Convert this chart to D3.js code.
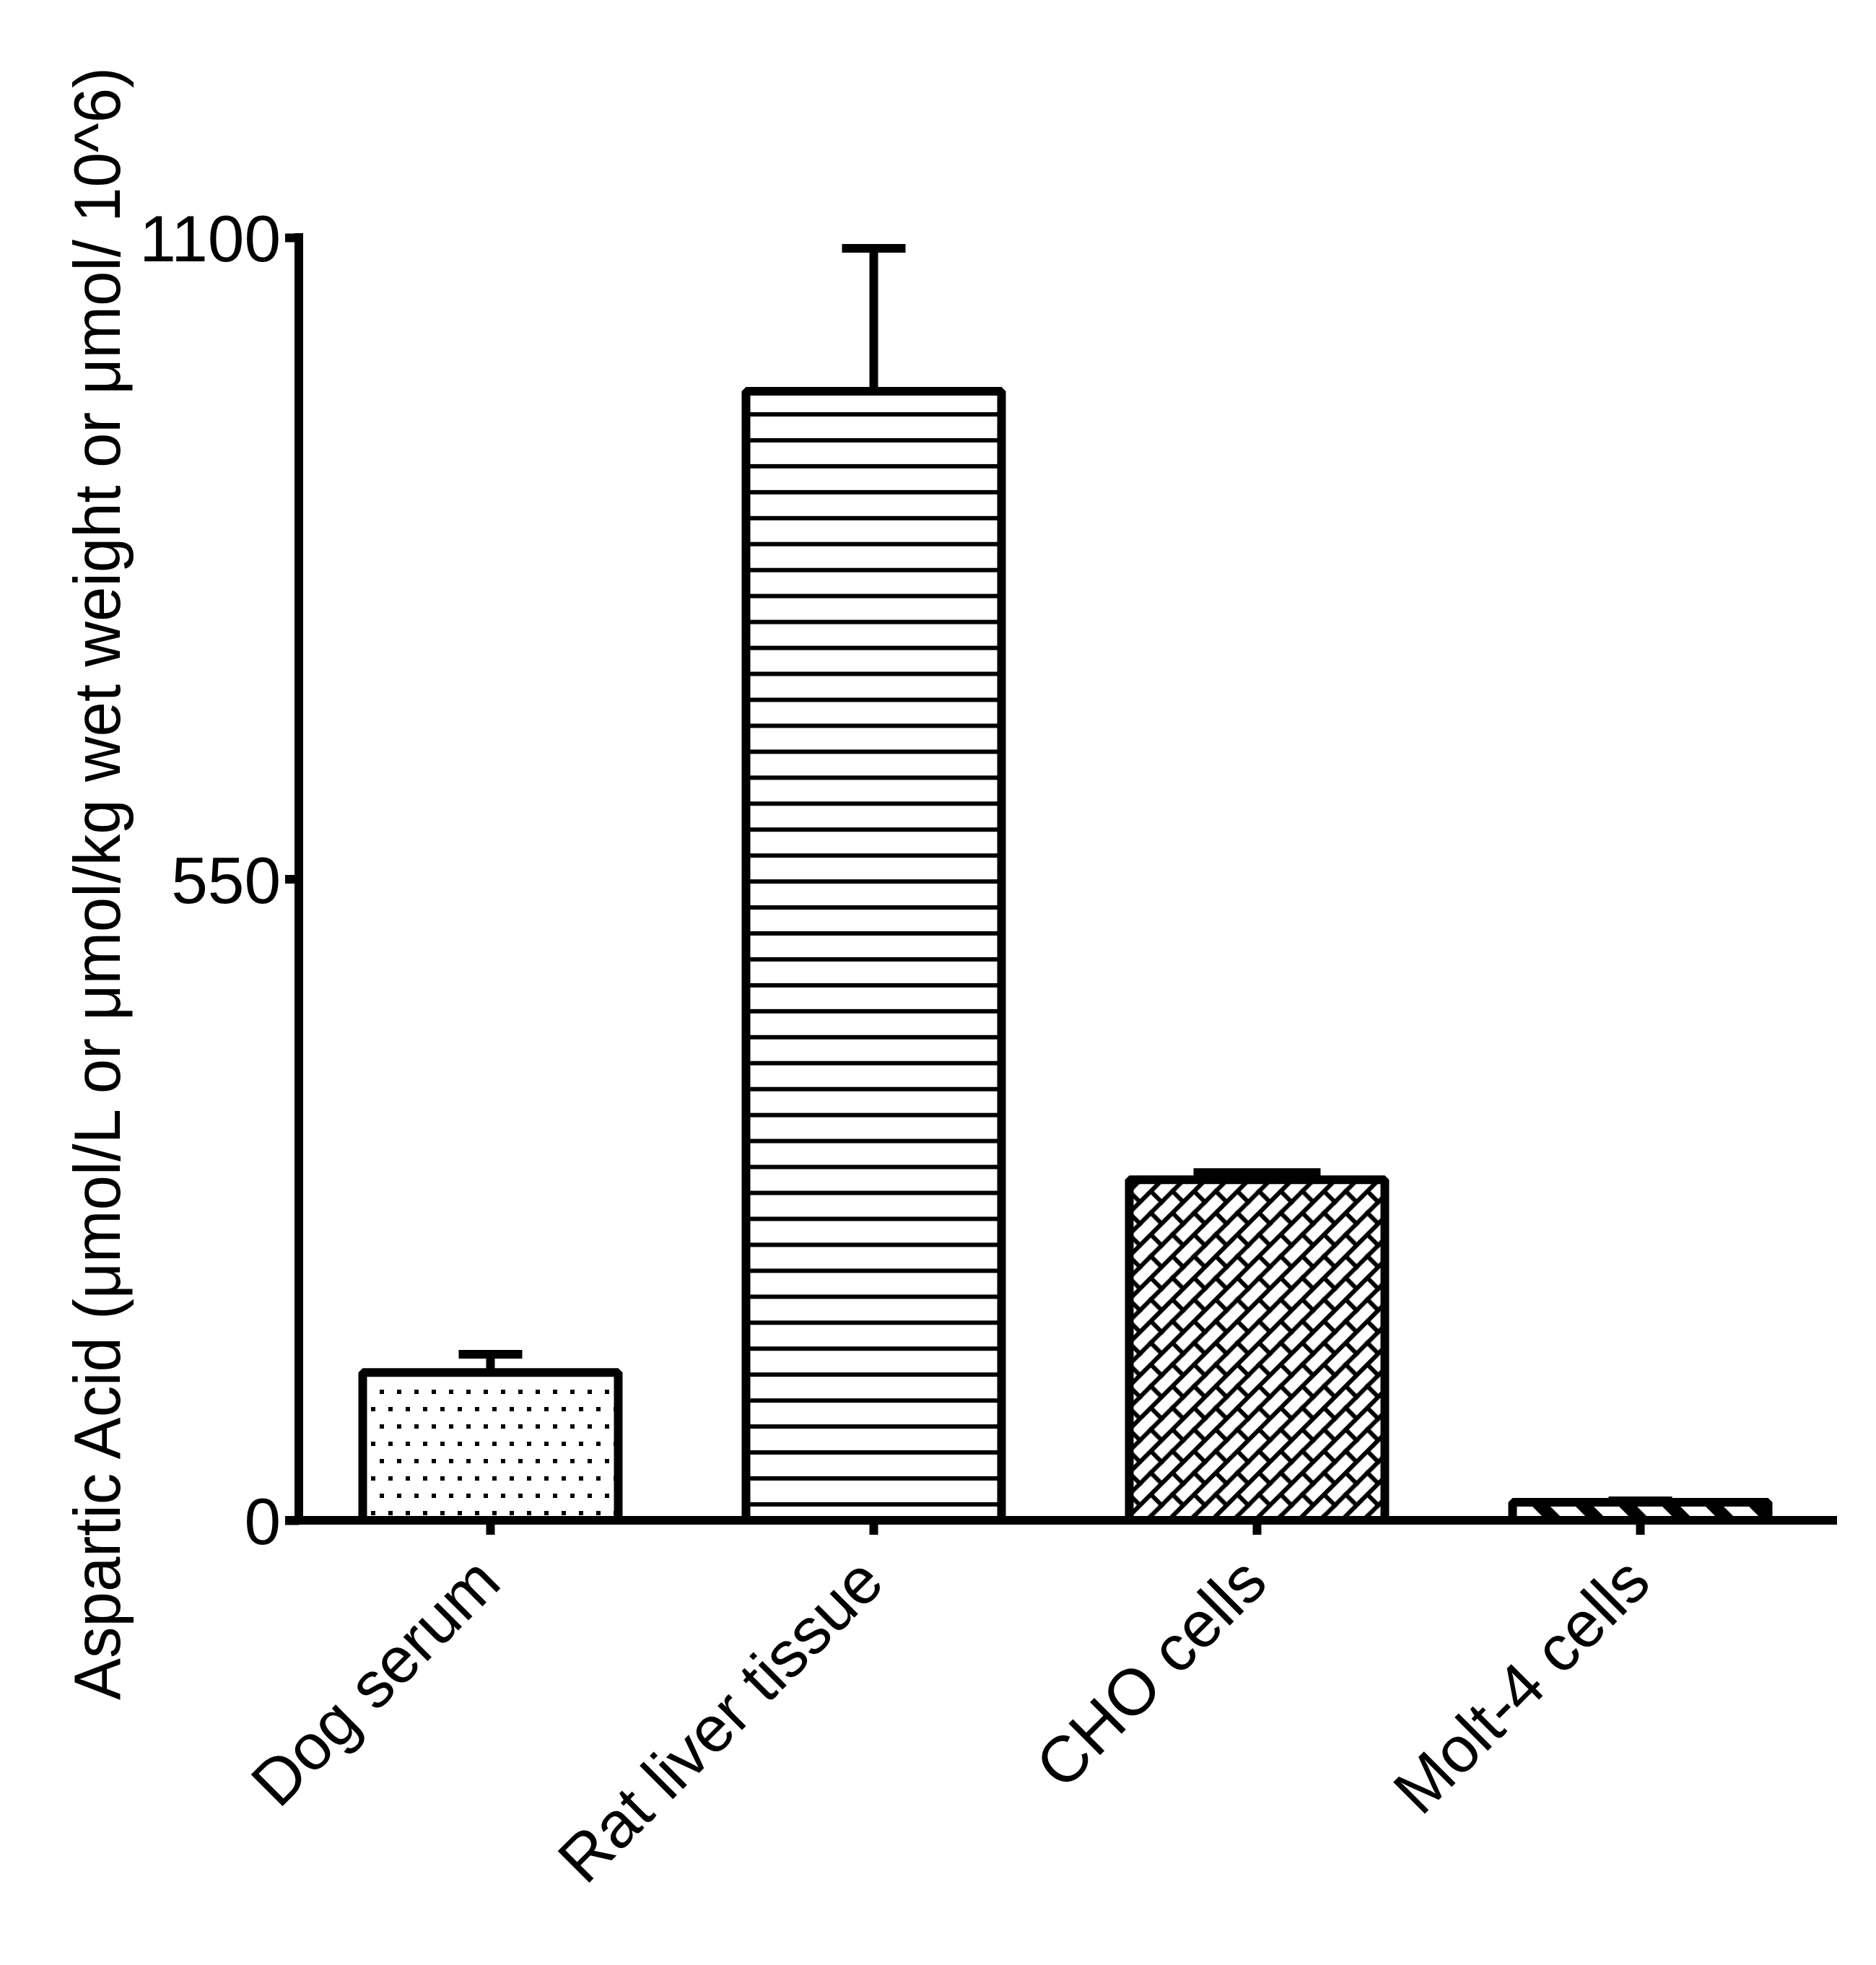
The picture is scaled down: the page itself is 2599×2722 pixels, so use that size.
<!DOCTYPE html>
<html>
<head>
<meta charset="utf-8">
<script src="https://cdn.jsdelivr.net/npm/d3@7"></script>
<style>
  html, body { margin: 0; padding: 0; background: #fff; }
  svg { display: block; }
  text { font-family: "Liberation Sans", Arial, Helvetica, sans-serif; fill: #000; }
</style>
</head>
<body>
<svg id="chart" width="2599" height="2722"></svg>
<script>
// ---- data ----
const categories = ["Dog serum", "Rat liver tissue", "CHO cells", "Molt-4 cells"];
const means = [126.8, 968.2, 292.0, 15.5];
const errors = [15.5, 122.5, 6.2, 1.2];
const yTicks = [0, 550, 1100];
const yTitle = "Aspartic Acid (\u03bcmol/L or \u03bcmol/kg wet weight or \u03bcmol/ 10^6)";

// ---- styles ----
const patterns = ["pDots", "pHLines", "pBricks", "pStripes"];
const capWidths = [88, 88, 176, 88];
const SW = 12;

const svg = d3.select("#chart");
svg.append("rect").attr("width", 2599).attr("height", 2722).attr("fill", "#fff");

const y = d3.scaleLinear().domain([0, 1100]).range([2106, 329]);
const x = d3.scaleBand().domain(categories).range([414, 2538])
  .paddingInner(1/3).paddingOuter(1/6);

// ---- patterns ----
const defs = svg.append("defs");
// dots
let p = defs.append("pattern").attr("id", "pDots").attr("patternUnits", "userSpaceOnUse")
  .attr("x", 526).attr("y", 1925).attr("width", 24).attr("height", 48);
p.append("rect").attr("width", 24).attr("height", 48).attr("fill", "#fff");
p.append("rect").attr("x", 0).attr("y", 0).attr("width", 6).attr("height", 6).attr("fill", "#000");
p.append("rect").attr("x", 12).attr("y", 24).attr("width", 6).attr("height", 6).attr("fill", "#000");
// horizontal lines
p = defs.append("pattern").attr("id", "pHLines").attr("patternUnits", "userSpaceOnUse")
  .attr("x", 0).attr("y", 571).attr("width", 100).attr("height", 35.95);
p.append("rect").attr("width", 100).attr("height", 35.95).attr("fill", "#fff");
p.append("rect").attr("x", 0).attr("y", 0).attr("width", 100).attr("height", 6).attr("fill", "#000");
// diagonal bricks
const bs = 42.43, bh = bs / 2;
p = defs.append("pattern").attr("id", "pBricks").attr("patternUnits", "userSpaceOnUse")
  .attr("x", 0).attr("y", 0).attr("width", bs).attr("height", bs)
  .attr("patternTransform", "rotate(-45)");
p.append("rect").attr("width", bs).attr("height", bs).attr("fill", "#fff");
p.append("rect").attr("x", 0).attr("y", 0).attr("width", bs).attr("height", 6).attr("fill", "#000");
p.append("rect").attr("x", 0).attr("y", bh).attr("width", bs).attr("height", 6).attr("fill", "#000");
p.append("rect").attr("x", 0).attr("y", 0).attr("width", 6).attr("height", bh + 6).attr("fill", "#000");
p.append("rect").attr("x", bh).attr("y", bh).attr("width", 6).attr("height", bh + 6).attr("fill", "#000");
// wide diagonal stripes
p = defs.append("pattern").attr("id", "pStripes").attr("patternUnits", "userSpaceOnUse")
  .attr("x", 25.5).attr("y", 0).attr("width", 42.43).attr("height", 42.43)
  .attr("patternTransform", "rotate(-45)");
p.append("rect").attr("width", 42.43).attr("height", 42.43).attr("fill", "#fff");
p.append("rect").attr("x", 0).attr("y", 0).attr("width", 17.7).attr("height", 42.43).attr("fill", "#000");

// ---- bars ----
const idx = d3.range(categories.length);
svg.append("g").selectAll("rect").data(idx).join("rect")
  .attr("x", i => x(categories[i]))
  .attr("y", i => y(means[i]))
  .attr("width", x.bandwidth())
  .attr("height", i => y(0) - y(means[i]))
  .attr("fill", i => `url(#${patterns[i]})`)
  .attr("stroke", "#000").attr("stroke-width", SW)
  .attr("stroke-linejoin", "bevel");

// ---- error bars ----
const eg = svg.append("g").attr("stroke", "#000").attr("stroke-width", SW);
eg.selectAll("line.stem").data(idx).join("line").attr("class", "stem")
  .attr("x1", i => x(categories[i]) + x.bandwidth() / 2)
  .attr("x2", i => x(categories[i]) + x.bandwidth() / 2)
  .attr("y1", i => y(means[i]))
  .attr("y2", i => y(means[i] + errors[i]));
eg.selectAll("line.cap").data(idx).join("line").attr("class", "cap")
  .attr("x1", i => x(categories[i]) + x.bandwidth() / 2 - capWidths[i] / 2)
  .attr("x2", i => x(categories[i]) + x.bandwidth() / 2 + capWidths[i] / 2)
  .attr("y1", i => y(means[i] + errors[i]))
  .attr("y2", i => y(means[i] + errors[i]));

// ---- y axis ----
const yAxis = d3.axisLeft(y).tickValues(yTicks).tickSize(19).tickSizeOuter(0).tickPadding(6)
  .tickFormat(d3.format("d"));
const yg = svg.append("g").attr("transform", "translate(414,0)").call(yAxis);
yg.select(".domain").remove();
yg.selectAll(".tick line").attr("stroke", "#000").attr("stroke-width", SW);
yg.selectAll(".tick text").attr("font-size", 91).attr("dy", "0.36em")
  .attr("font-family", "'Liberation Sans', Arial, sans-serif").attr("fill", "#000");
svg.append("line").attr("x1", 414).attr("x2", 414)
  .attr("y1", y(1100) - SW / 2).attr("y2", y(0) + SW / 2)
  .attr("stroke", "#000").attr("stroke-width", SW);

// ---- x axis ----
const xAxis = d3.axisBottom(x).tickSize(20).tickSizeOuter(0).tickPadding(0);
const xg = svg.append("g").attr("transform", `translate(0,${y(0)})`).call(xAxis);
xg.select(".domain").remove();
xg.selectAll(".tick line").attr("stroke", "#000").attr("stroke-width", SW);
xg.selectAll(".tick text")
  .attr("font-size", 90).attr("font-family", "'Liberation Sans', Arial, sans-serif").attr("fill", "#000")
  .attr("y", 0).attr("dy", 0).attr("text-anchor", "end")
  .attr("transform", "translate(18,90) rotate(-45)");
svg.append("line").attr("x1", 395).attr("x2", 2545)
  .attr("y1", y(0)).attr("y2", y(0))
  .attr("stroke", "#000").attr("stroke-width", SW);

// ---- y title ----
svg.append("text")
  .attr("transform", "translate(166,2355) rotate(-90)")
  .attr("text-anchor", "start")
  .attr("font-size", 90)
  .attr("textLength", 2262).attr("lengthAdjust", "spacingAndGlyphs")
  .text(yTitle);
</script>
</body>
</html>
